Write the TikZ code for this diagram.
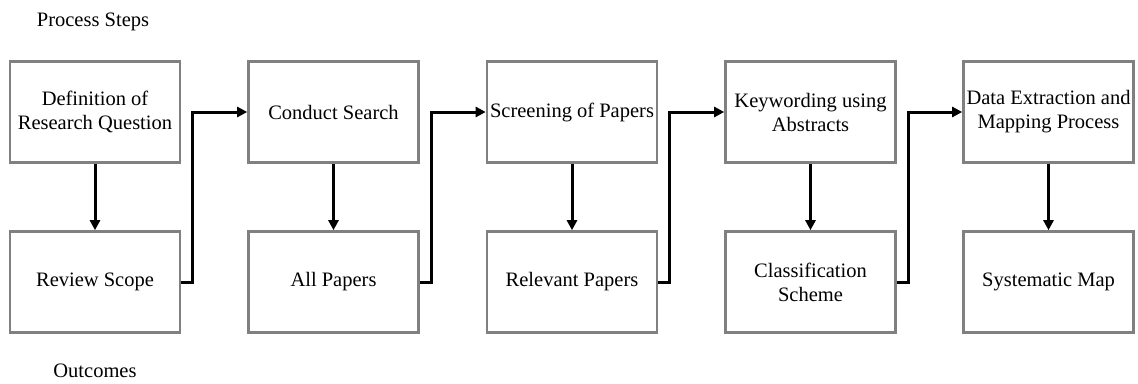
\documentclass[tikz,border=0pt]{standalone}
\usepackage{fontspec}
\setmainfont{Liberation Serif}
\usetikzlibrary{arrows.meta}
\begin{document}
\begin{tikzpicture}[x=1pt,y=-1pt,
  box/.style={draw=black!50, line width=2.6pt, rectangle, minimum width=170pt, minimum height=101pt, align=center, inner sep=1pt, font=\fontsize{20.5}{24}\selectfont},
  lbl/.style={font=\fontsize{20.5}{24}\selectfont, inner sep=0pt},
  conn/.style={line width=3pt, -{Triangle[length=10pt,width=10pt]}}]
\useasboundingbox (0,0) rectangle (1138,383);
\node[lbl] (ps) at (93,22) {Process Steps};
\node[lbl] (oc) at (95,371) {Outcomes};
\node[box] (t1) at (95,112) {Definition of\\Research Question};
\node[box] (t2) at (333.5,112) {Conduct Search};
\node[box] (t3) at (572,112) {Screening of Papers};
\node[box] (t4) at (810.5,112) {Keywording using\\Abstracts};
\node[box] (t5) at (1048.5,112) {Data Extraction and\\Mapping Process};
\node[box] (b1) at (95,282) {Review Scope};
\node[box] (b2) at (333.5,282) {All Papers};
\node[box] (b3) at (572,282) {Relevant Papers};
\node[box] (b4) at (810.5,282) {Classification\\Scheme};
\node[box] (b5) at (1048.5,282) {Systematic Map};
\foreach \i in {1,...,5}{\draw[conn] (t\i.south) -- (b\i.north);}
\foreach \i/\j in {1/2,2/3,3/4,4/5}{
  \draw[conn] (b\i.east) -- ++(11.5,0) |- (t\j.west);}
\end{tikzpicture}
\end{document}
